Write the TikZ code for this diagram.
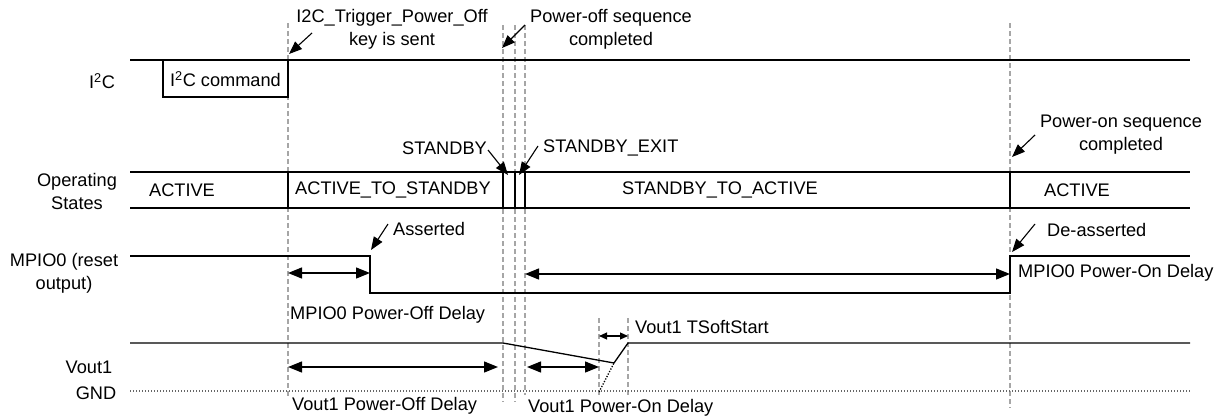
\documentclass[tikz,border=0pt]{standalone}
\usepackage{fontspec}
\setmainfont{Liberation Sans}
\usetikzlibrary{arrows.meta}
\begin{document}
\begin{tikzpicture}[x=1pt,y=-1pt,
  sig/.style={line width=1.3pt, black},
  guide/.style={draw=black!35, line width=1.4pt, dash pattern=on 5pt off 3pt},
  gnd/.style={draw=black!60, line width=1.1pt, dash pattern=on 1.2pt off 1.8pt},
  dimarr/.style={line width=1.3pt, {Triangle[length=14pt,width=11pt]}-{Triangle[length=14pt,width=11pt]}},
  smalldim/.style={line width=1.1pt, {Triangle[length=8pt,width=7pt]}-{Triangle[length=8pt,width=7pt]}},
  callout/.style={line width=1.1pt, -{Triangle[length=13pt,width=10pt]}},
  lbl/.style={font=\fontsize{18.2}{23}\selectfont, inner sep=0pt},
]
\useasboundingbox (0,0) rectangle (1228,418);

% guide lines
\coordinate (g1t) at (288,23);   \coordinate (g1b) at (288,398);
\coordinate (g2t) at (503,25);   \coordinate (g2b) at (503,402);
\coordinate (g3t) at (515,25);   \coordinate (g3b) at (515,402);
\coordinate (g4t) at (525,25);   \coordinate (g4b) at (525,395);
\coordinate (g5t) at (1010,23);  \coordinate (g5b) at (1010,408);
\coordinate (g6t) at (599,318);  \coordinate (g6b) at (599,397);
\coordinate (g7t) at (628,318);  \coordinate (g7b) at (628,397);
\foreach \g in {1,...,7} \draw[guide] (g\g t) -- (g\g b);

% I2C signal
\draw[sig] (130,60) -- (1190,60);
\draw[sig] (163,60) rectangle (288,97);
\node[lbl] (i2cbox) at (225.5,79) {I\textsuperscript{2}C command};
\node[lbl] (i2clbl) at (102,81) {I\textsuperscript{2}C};

% Operating states
\draw[sig] (130,172) -- (1190,172);
\draw[sig] (130,208) -- (1190,208);
\foreach \x in {288,503,515,525,1010} \draw[sig] (\x,172) -- (\x,208);
\node[lbl, align=center] (oplbl) at (77,191) {Operating\\States};
\node[lbl] (s1) at (182,190) {ACTIVE};
\node[lbl] (s2) at (393,190) {ACTIVE\_TO\_STANDBY};
\node[lbl] (s3) at (720,190) {STANDBY\_TO\_ACTIVE};
\node[lbl] (s4) at (1077,190) {ACTIVE};

% MPIO0
\draw[sig] (130,256) -- (370,256) -- (370,293) -- (1010,293) -- (1010,256) -- (1190,256);
\node[lbl, align=center] (mplbl) at (64,273) {MPIO0 (reset\\output)};

% Vout1
\coordinate (vk) at (614,363);
\coordinate (vg) at (599,392);
\draw[sig] (130,343) -- (503,343) -- (vk) -- (628,343) -- (1190,343);
\draw[line width=1.3pt, dash pattern=on 1.3pt off 1.5pt] (vg) -- (vk);
\draw[gnd] (130,391) -- (1190,391);
\node[lbl] (vlbl) at (89,367) {Vout1};
\node[lbl] (gndlbl) at (96,393) {GND};

% dimension arrows
\coordinate (d1a) at (288,273); \coordinate (d1b) at (370,273);
\coordinate (d2a) at (525,274); \coordinate (d2b) at (1010,274);
\coordinate (d3a) at (288,367); \coordinate (d3b) at (498,367);
\coordinate (d4a) at (527,367); \coordinate (d4b) at (599,367);
\coordinate (d5a) at (599,336); \coordinate (d5b) at (628,336);
\draw[dimarr] (d1a) -- (d1b);
\draw[dimarr] (d2a) -- (d2b);
\draw[dimarr] (d3a) -- (d3b);
\draw[dimarr] (d4a) -- (d4b);
\draw[smalldim] (d5a) -- (d5b);

\node[lbl, anchor=west] (l1) at (290,315) {MPIO0 Power-Off Delay};
\node[lbl, anchor=west] (l2) at (1018,273) {MPIO0 Power-On Delay};
\node[lbl, anchor=west] (l3) at (292,406) {Vout1 Power-Off Delay};
\node[lbl, anchor=west] (l4) at (528,408) {Vout1 Power-On Delay};
\node[lbl, anchor=west] (l5) at (635,327) {Vout1 TSoftStart};

% callouts
\node[lbl, align=center] (c1) at (392,29) {I2C\_Trigger\_Power\_Off\\key is sent};
\coordinate (c1s) at (312,33); \coordinate (c1e) at (289,54);
\draw[callout] (c1s) -- (c1e);

\node[lbl, align=center] (c2) at (611,29) {Power-off sequence\\completed};
\coordinate (c2s) at (525,25); \coordinate (c2e) at (502,48);
\draw[callout] (c2s) -- (c2e);

\node[lbl, anchor=east] (c3) at (487,148) {STANDBY};
\coordinate (c3s) at (488,150); \coordinate (c3e) at (508,175);
\draw[callout] (c3s) -- (c3e);

\node[lbl, anchor=west] (c4) at (543,148) {STANDBY\_EXIT};
\coordinate (c4s) at (538,146); \coordinate (c4e) at (519,175);
\draw[callout] (c4s) -- (c4e);

\node[lbl, align=center] (c5) at (1121,135) {Power-on sequence\\completed};
\coordinate (c5s) at (1035,135); \coordinate (c5e) at (1012,157);
\draw[callout] (c5s) -- (c5e);

\node[lbl, anchor=west] (c6) at (393,229) {Asserted};
\coordinate (c6s) at (388,224); \coordinate (c6e) at (371,250);
\draw[callout] (c6s) -- (c6e);

\node[lbl, anchor=west] (c7) at (1047,230) {De-asserted};
\coordinate (c7s) at (1035,224); \coordinate (c7e) at (1012,252);
\draw[callout] (c7s) -- (c7e);
\end{tikzpicture}
\end{document}
